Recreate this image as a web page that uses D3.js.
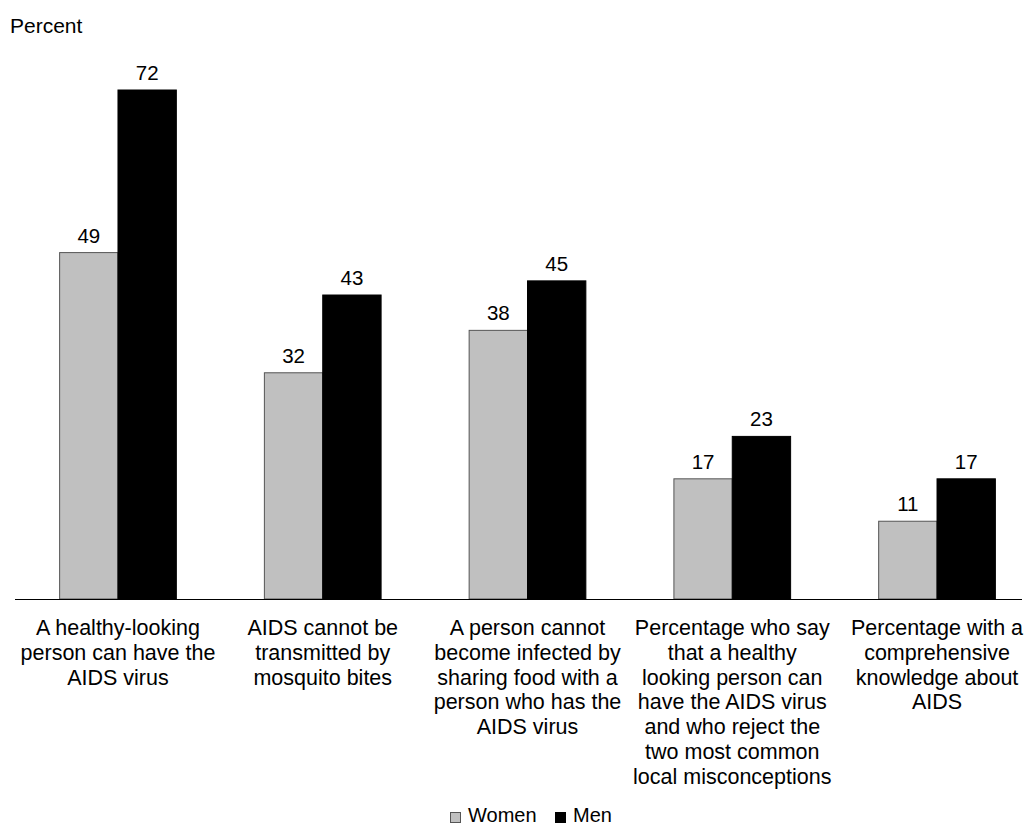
<!DOCTYPE html>
<html>
<head>
<meta charset="utf-8">
<script src="https://cdn.jsdelivr.net/npm/d3@7"></script>
<style>
  body { margin: 0; background: #fff; }
  svg { display: block; font-family: "Liberation Sans", Arial, sans-serif; }
</style>
</head>
<body>
<svg id="chart" width="1024" height="825"></svg>
<script>
var categories = [
  ["A healthy-looking", "person can have the", "AIDS virus"],
  ["AIDS cannot be", "transmitted by", "mosquito bites"],
  ["A person cannot", "become infected by", "sharing food with a", "person who has the", "AIDS virus"],
  ["Percentage who say", "that a healthy", "looking person can", "have the AIDS virus", "and who reject the", "two most common", "local misconceptions"],
  ["Percentage with a", "comprehensive", "knowledge about", "AIDS"]
];
var seriesNames = ["Women", "Men"];
var women = [49, 32, 38, 17, 11];
var men = [72, 43, 45, 23, 17];
var colors = ["#c0c0c0", "#000000"];

var svg = d3.select("#chart");
var baseY = 599;

var x0 = d3.scaleBand().domain(d3.range(categories.length)).range([15.6, 1039.4])
  .paddingInner(0.43).paddingOuter(0.215);
var x1 = d3.scaleBand().domain(seriesNames).range([0, x0.bandwidth()]);
var y = d3.scaleLinear().domain([0, 72]).range([baseY, 90]);

var rows = categories.map(function (c, i) {
  return { i: i, vals: [women[i], men[i]] };
});

var groups = svg.selectAll("g.grp")
  .data(rows)
  .enter()
  .append("g")
  .attr("class", "grp")
  .attr("transform", function (d) { return "translate(" + x0(d.i) + ",0)"; });

groups.selectAll("rect")
  .data(function (d) { return d.vals.map(function (v, k) { return { k: k, v: v }; }); })
  .enter()
  .append("rect")
  .attr("x", function (d) { return x1(seriesNames[d.k]); })
  .attr("y", function (d) { return y(d.v); })
  .attr("width", x1.bandwidth())
  .attr("height", function (d) { return baseY - y(d.v); })
  .style("fill", function (d) { return colors[d.k]; })
  .style("stroke", function (d) { return d.k === 0 ? "#555" : "#000"; })
  .style("stroke-width", 1);

groups.selectAll("text.val")
  .data(function (d) { return d.vals.map(function (v, k) { return { k: k, v: v }; }); })
  .enter()
  .append("text")
  .attr("class", "val")
  .attr("x", function (d) { return x1(seriesNames[d.k]) + x1.bandwidth() / 2; })
  .attr("y", function (d) { return y(d.v) - 10; })
  .attr("text-anchor", "middle")
  .style("font-size", "20.5px")
  .text(function (d) { return d.v; });

// baseline
svg.append("line")
  .attr("x1", 15).attr("x2", 1022)
  .attr("y1", baseY + 0.5).attr("y2", baseY + 0.5)
  .style("stroke", "#000")
  .style("stroke-width", 1);

// category labels
groups.each(function (d) {
  var t = d3.select(this).append("text")
    .attr("text-anchor", "middle")
    .style("font-size", "21.5px")
    .attr("x", x0.bandwidth() / 2)
    .attr("y", 635);
  categories[d.i].forEach(function (line, j) {
    t.append("tspan")
      .attr("x", x0.bandwidth() / 2)
      .attr("dy", j === 0 ? 0 : 24.8)
      .text(line);
  });
});

svg.append("text")
  .attr("x", 10).attr("y", 33)
  .style("font-size", "21px")
  .text("Percent");

// legend
var legend = svg.append("g").attr("transform", "translate(450,810)");
var legX = [0, 105];
seriesNames.forEach(function (n, k) {
  legend.append("rect")
    .attr("x", legX[k] + 0.5).attr("y", 2.5)
    .attr("width", 10).attr("height", 10)
    .style("fill", colors[k])
    .style("stroke", k === 0 ? "#555" : "#000");
  legend.append("text")
    .attr("x", legX[k] + 18).attr("y", 12)
    .style("font-size", "20px")
    .text(n);
});
</script>
</body>
</html>
